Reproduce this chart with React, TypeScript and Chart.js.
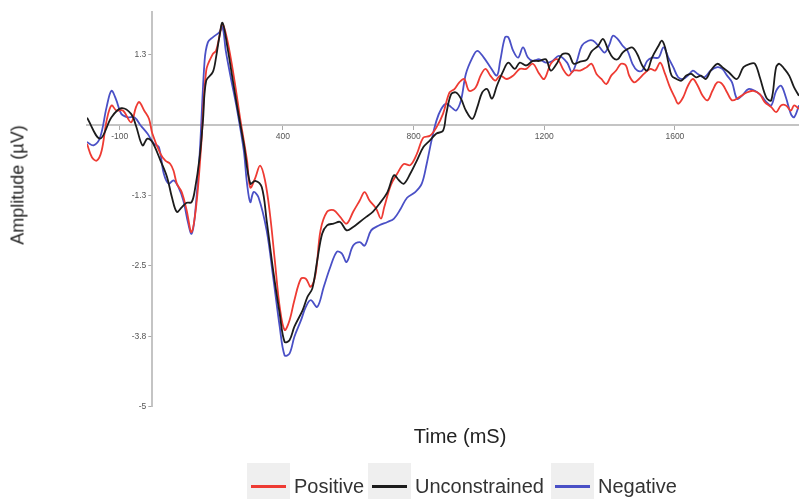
import React, { useEffect, useRef } from "react";
import { Chart, registerables } from "chart.js";

Chart.register(...registerables);

// Time (ms) / amplitude (µV) pairs
const positiveSeries: [number, number][] = [
  [-200,-0.34],[-185,-0.58],[-170,-0.64],[-155,-0.46],[-140,0.07],[-125,0.34],[-110,0.25],[-90,0.25],[-65,0.04],[-50,0.31],[-40,0.40],[-25,0.25],[-10,0.10],[0,-0.16],[25,-0.52],[40,-0.64],[55,-0.70],[65,-0.82],[75,-1.05],[90,-1.20],[105,-1.52],[120,-1.91],[135,-1.41],[150,-0.34],[165,0.96],[185,1.25],[195,1.31],[205,1.55],[215,1.79],[230,1.49],[250,0.84],[270,0.07],[290,-0.64],[300,-1.12],[315,-0.95],[330,-0.73],[345,-0.99],[360,-1.58],[375,-2.41],[390,-3.24],[405,-3.65],[420,-3.48],[435,-3.12],[455,-2.74],[470,-2.74],[485,-2.88],[500,-2.65],[515,-1.88],[535,-1.55],[555,-1.52],[575,-1.64],[595,-1.76],[615,-1.55],[635,-1.35],[650,-1.20],[665,-1.35],[685,-1.49],[700,-1.67],[710,-1.47],[730,-1.08],[750,-0.87],[770,-0.70],[790,-0.72],[810,-0.52],[830,-0.23],[850,-0.20],[870,-0.05],[890,0.19],[910,0.57],[925,0.63],[940,0.75],[955,0.81],[970,0.60],[990,0.66],[1005,0.87],[1020,0.99],[1035,0.87],[1050,0.78],[1065,0.87],[1085,0.81],[1105,0.87],[1125,0.99],[1145,0.99],[1165,1.08],[1185,0.90],[1200,0.81],[1220,1.08],[1240,1.16],[1260,0.96],[1275,0.87],[1290,0.96],[1310,0.96],[1330,1.02],[1345,1.08],[1360,0.90],[1375,0.81],[1390,0.72],[1405,0.87],[1420,0.96],[1435,1.08],[1450,1.05],[1460,0.87],[1475,0.75],[1490,0.81],[1505,0.90],[1525,0.99],[1540,0.96],[1555,1.10],[1570,0.90],[1585,0.66],[1600,0.48],[1610,0.37],[1625,0.48],[1640,0.69],[1655,0.81],[1670,0.69],[1685,0.51],[1700,0.43],[1715,0.60],[1730,0.75],[1745,0.72],[1760,0.57],[1775,0.43],[1795,0.48],[1820,0.57],[1840,0.60],[1860,0.54],[1875,0.40],[1895,0.31],[1910,0.22],[1925,0.34],[1940,0.34],[1955,0.25],[1965,0.34],[1980,0.28]
];

const unconstrainedSeries: [number, number][] = [
  [-200,0.12],[-160,-0.25],[-125,0.13],[-95,0.29],[-65,0.19],[-50,-0.02],[-30,-0.37],[-15,-0.25],[0,-0.31],[25,-0.64],[45,-0.93],[60,-1.29],[75,-1.55],[90,-1.47],[105,-1.39],[120,-1.38],[130,-1.17],[145,-0.58],[155,0.07],[165,0.78],[185,0.93],[195,1.19],[205,1.55],[215,1.81],[230,1.37],[245,0.84],[260,0.31],[280,-0.34],[300,-1.05],[315,-1.0],[335,-1.11],[350,-1.70],[370,-2.59],[390,-3.36],[405,-3.86],[420,-3.83],[435,-3.59],[460,-3.30],[475,-3.06],[490,-2.91],[505,-2.41],[520,-1.94],[535,-1.79],[555,-1.76],[575,-1.73],[595,-1.88],[615,-1.82],[635,-1.73],[655,-1.64],[675,-1.55],[695,-1.41],[720,-1.20],[740,-0.90],[755,-0.99],[770,-1.05],[790,-0.87],[810,-0.64],[830,-0.40],[850,-0.28],[870,-0.16],[890,-0.11],[900,0.19],[915,0.54],[930,0.57],[945,0.46],[960,0.25],[980,0.10],[995,0.31],[1010,0.57],[1025,0.63],[1040,0.46],[1055,0.69],[1075,0.96],[1090,1.10],[1110,0.99],[1125,1.10],[1145,1.05],[1165,1.13],[1185,1.13],[1205,1.16],[1220,0.96],[1240,1.10],[1255,1.25],[1275,1.25],[1290,1.08],[1310,1.12],[1330,1.15],[1345,1.30],[1365,1.40],[1380,1.52],[1395,1.34],[1410,1.19],[1425,1.16],[1440,1.28],[1455,1.34],[1470,1.37],[1485,1.25],[1500,1.05],[1515,0.96],[1530,1.19],[1550,1.40],[1560,1.49],[1570,1.37],[1580,1.10],[1590,0.87],[1605,0.81],[1620,0.78],[1635,0.87],[1650,0.90],[1665,0.84],[1680,0.87],[1695,0.81],[1710,0.96],[1730,1.08],[1745,1.02],[1765,0.93],[1790,0.81],[1810,1.02],[1830,1.08],[1845,1.08],[1860,0.84],[1880,0.48],[1895,0.43],[1910,1.02],[1920,1.08],[1935,0.99],[1950,0.87],[1965,0.66],[1980,0.51]
];

const negativeSeries: [number, number][] = [
  [-200,-0.31],[-180,-0.37],[-160,-0.23],[-140,0.31],[-125,0.60],[-110,0.43],[-95,0.19],[-75,0.13],[-55,0.13],[-35,-0.02],[-15,-0.16],[5,-0.34],[20,-0.40],[35,-0.87],[50,-1.05],[65,-0.99],[80,-1.11],[95,-1.35],[110,-1.76],[120,-1.94],[130,-1.64],[145,-0.52],[160,1.13],[170,1.46],[185,1.55],[205,1.64],[215,1.73],[225,1.31],[240,0.84],[260,0.25],[280,-0.46],[290,-1.05],[300,-1.38],[310,-1.20],[325,-1.29],[350,-1.88],[370,-2.71],[390,-3.59],[405,-4.10],[420,-4.07],[435,-3.77],[455,-3.48],[470,-3.24],[485,-3.12],[505,-3.24],[525,-2.88],[545,-2.53],[565,-2.26],[580,-2.29],[595,-2.44],[615,-2.15],[635,-2.09],[650,-2.15],[670,-1.88],[695,-1.79],[720,-1.73],[740,-1.67],[760,-1.50],[780,-1.30],[805,-1.20],[825,-1.05],[840,-0.70],[855,-0.28],[870,0.07],[885,0.28],[900,0.37],[915,0.31],[930,0.25],[945,0.43],[960,0.90],[980,1.19],[995,1.31],[1015,1.19],[1035,1.02],[1055,0.87],[1065,1.13],[1080,1.55],[1090,1.55],[1105,1.31],[1120,1.19],[1135,1.37],[1150,1.19],[1165,1.13],[1185,1.16],[1205,1.10],[1225,1.13],[1245,1.22],[1270,1.10],[1285,0.93],[1300,1.13],[1315,1.40],[1335,1.49],[1350,1.49],[1370,1.37],[1385,1.28],[1400,1.43],[1410,1.58],[1425,1.52],[1440,1.40],[1455,1.31],[1470,1.08],[1485,0.96],[1500,0.96],[1515,1.13],[1530,1.19],[1550,1.19],[1565,1.37],[1580,1.19],[1595,1.02],[1610,0.84],[1625,0.81],[1640,0.87],[1655,0.96],[1670,0.90],[1690,0.84],[1710,0.96],[1730,1.02],[1745,0.99],[1760,0.87],[1775,0.75],[1790,0.46],[1805,0.51],[1825,0.63],[1845,0.60],[1865,0.51],[1880,0.40],[1895,0.34],[1910,0.60],[1925,0.69],[1940,0.48],[1955,0.19],[1965,0.13],[1980,0.34]
];

const seriesNames = ["Positive", "Unconstrained", "Negative"];
const seriesColors = ["#ee3b33", "#1c1c1c", "#4a50c6"];

const xTickValues = [-100, 400, 800, 1200, 1600];
const xTickLabels = ["-100", "400", "800", "1200", "1600"];
const yTickValues = [-5, -3.75, -2.5, -1.25, 1.25];
const yTickLabels = ["-5", "-3.8", "-2.5", "-1.3", "1.3"];

const xTitle = "Time (mS)";
const yTitle = "Amplitude (\u00b5V)";

const FONT = "'Liberation Sans', Arial, Helvetica, sans-serif";

// Draws the y tick marks and labels to the left of the axis that sits at x = 0
const yTickPlugin = {
  id: "yTicksAtZero",
  afterDraw(chart: any) {
    const { ctx, scales } = chart;
    const xs = scales.x;
    const ys = scales.y;
    const ax = xs.getPixelForValue(0);
    ctx.save();
    ctx.strokeStyle = "#aaa";
    ctx.lineWidth = 1;
    ctx.fillStyle = "#555";
    ctx.font = `8.5px ${FONT}`;
    ctx.textAlign = "right";
    ctx.textBaseline = "middle";
    yTickValues.forEach((v, i) => {
      const py = Math.round(ys.getPixelForValue(v)) + 0.5;
      ctx.beginPath();
      ctx.moveTo(ax - 4, py);
      ctx.lineTo(ax - 1, py);
      ctx.stroke();
      ctx.fillText(yTickLabels[i], ax - 6, py);
    });
    ctx.restore();
  },
};

export default function App() {
  const canvasRef = useRef<HTMLCanvasElement | null>(null);

  useEffect(() => {
    document.body.style.margin = "0";
    const canvas = canvasRef.current;
    if (!canvas) return;
    const allSeries = [positiveSeries, unconstrainedSeries, negativeSeries];
    const drawOrder = [1, 0, 2];
    const chart = new Chart(canvas, {
      type: "line",
      data: {
        datasets: allSeries.map((s, i) => ({
          label: seriesNames[i],
          data: s.map(([x, y]) => ({ x, y })),
          borderColor: seriesColors[i],
          backgroundColor: seriesColors[i],
          borderWidth: 1.8,
          pointRadius: 0,
          tension: 0.35,
          fill: false,
          order: drawOrder[i],
        })),
      },
      options: {
        animation: false,
        responsive: false,
        devicePixelRatio: 1,
        layout: { padding: { left: 87, top: 12, right: 0, bottom: 93 } },
        plugins: { legend: { display: false }, tooltip: { enabled: false } },
        scales: {
          x: {
            type: "linear",
            min: -200,
            max: 1980,
            position: { y: 0 } as any,
            afterBuildTicks: (s: any) => {
              s.ticks = xTickValues.map((v) => ({ value: v }));
            },
            ticks: {
              autoSkip: false,
              maxRotation: 0,
              padding: 3,
              color: "#555",
              font: { family: FONT, size: 8.5 },
              callback: (_v: any, i: number) => xTickLabels[i],
            },
            grid: { display: true, drawOnChartArea: false, drawTicks: true, tickLength: 4, color: "#aaa" },
            border: { display: true, color: "#c4c4c4", width: 2 },
          },
          y: {
            type: "linear",
            min: -5,
            max: 2,
            position: { x: 0 } as any,
            afterBuildTicks: (s: any) => {
              s.ticks = yTickValues.map((v) => ({ value: v }));
            },
            ticks: { display: false },
            grid: { display: false },
            border: { display: true, color: "#c4c4c4", width: 2 },
          },
        },
      },
      plugins: [yTickPlugin],
    });
    return () => chart.destroy();
  }, []);

  const legendLefts = [247, 368, 551];

  return (
    <div
      style={{
        position: "fixed",
        left: 0,
        top: 0,
        width: 799,
        height: 499,
        background: "#fff",
        fontFamily: FONT,
        overflow: "hidden",
      }}
    >
      <canvas ref={canvasRef} width={799} height={499} style={{ position: "absolute", left: 0, top: 0 }} />
      <div
        style={{
          position: "absolute",
          left: 18,
          top: 185,
          transform: "translate(-50%, -50%) rotate(-90deg)",
          whiteSpace: "nowrap",
          fontSize: 18,
          color: "#222",
        }}
      >
        {yTitle}
      </div>
      <div
        style={{
          position: "absolute",
          left: 460,
          top: 436,
          transform: "translate(-50%, -50%)",
          whiteSpace: "nowrap",
          fontSize: 20,
          color: "#222",
        }}
      >
        {xTitle}
      </div>
      {seriesNames.map((name, i) => (
        <div
          key={name}
          style={{
            position: "absolute",
            left: legendLefts[i],
            top: 463,
            height: 36,
            display: "flex",
            alignItems: "flex-start",
          }}
        >
          <div style={{ width: 43, height: 36, background: "#efefef", position: "relative" }}>
            <div
              style={{
                position: "absolute",
                left: 4,
                right: 4,
                top: 22,
                height: 2.5,
                background: seriesColors[i],
              }}
            />
          </div>
          <div
            style={{
              marginLeft: 4,
              fontSize: 20,
              lineHeight: "20px",
              marginTop: 13,
              color: "#333",
              whiteSpace: "nowrap",
            }}
          >
            {name}
          </div>
        </div>
      ))}
    </div>
  );
}
